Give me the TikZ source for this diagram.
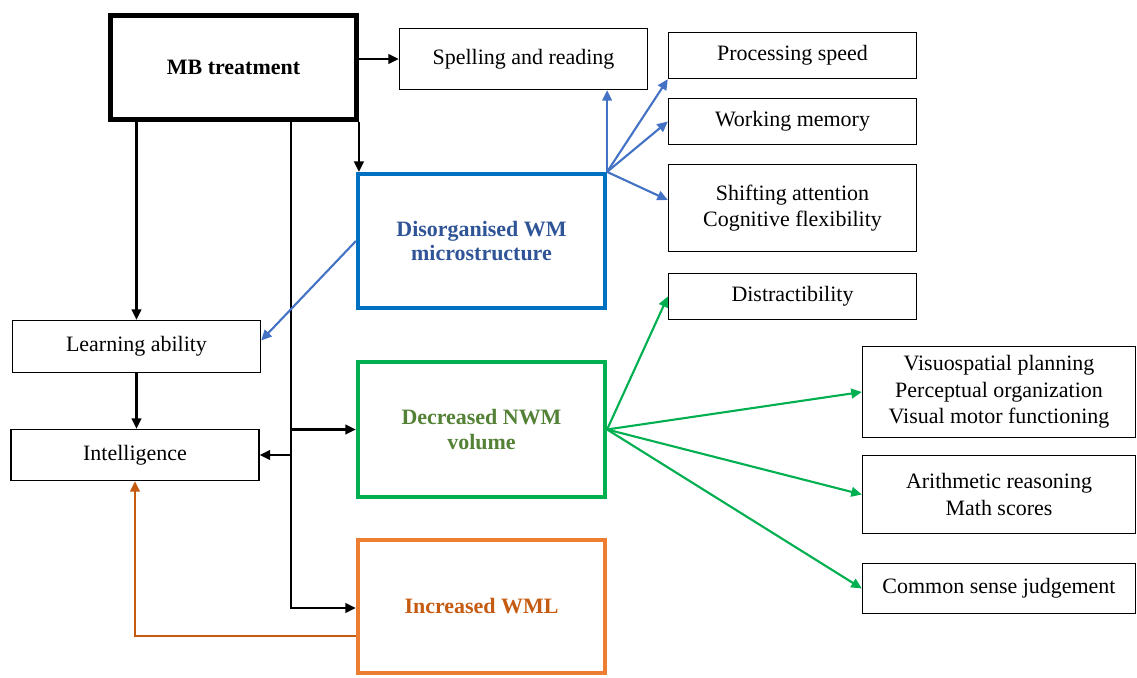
\documentclass[tikz,border=0pt]{standalone}
\usepackage{fontspec}
\setmainfont{Liberation Serif}
\usetikzlibrary{arrows.meta,positioning}

\definecolor{wmblue}{HTML}{0070C0}
\definecolor{wmbluearr}{HTML}{4472C4}
\definecolor{wmbluetxt}{HTML}{2F5597}
\definecolor{nwmgreen}{HTML}{00B050}
\definecolor{nwmgreentxt}{HTML}{538135}
\definecolor{wmlorange}{HTML}{ED7D31}
\definecolor{wmlorangetxt}{HTML}{C55A11}

\tikzset{
  every node/.style={font=\fontsize{12.5}{15.2}\selectfont,align=center,inner sep=0pt},
  plainbox/.style={draw,line width=0.8pt,minimum width=4.96cm},
  widebox/.style={draw,line width=0.8pt,minimum width=5.46cm},
  lesion/.style={draw=#1,line width=2.4pt,minimum width=4.94cm,font=\fontsize{12.5}{14.2}\selectfont\bfseries},
  arr/.style={->,line width=1.3pt},
  bluearr/.style={->,line width=1.2pt,draw=wmbluearr},
  greenarr/.style={->,line width=1.2pt,draw=nwmgreen},
  orangearr/.style={->,line width=1.2pt,draw=wmlorangetxt}
}

\begin{document}
\begin{tikzpicture}[x=0.02cm,y=-0.02cm,>={Triangle[length=6pt,width=5.5pt]}]
\useasboundingbox (0,0) rectangle (1137,678);

% treatment and left column
\node[draw,line width=2.8pt,minimum width=4.92cm,minimum height=2.08cm,font=\fontsize{12.5}{15.2}\selectfont\bfseries] (mb) at (233.5,67.5) {MB treatment};
\node[plainbox,minimum height=1.04cm] (learn) at (136.5,346.5) {Learning ability};
\node[plainbox,minimum height=1.02cm] (intel) at (135,455) {Intelligence};

% white matter findings
\node[lesion=wmblue,text=wmbluetxt,minimum height=2.68cm] (disorg) at (481.5,241) {Disorganised WM\\microstructure};
\node[lesion=nwmgreen,text=nwmgreentxt,minimum height=2.7cm] (decr) at (481.5,429.5) {Decreased NWM\\volume};
\node[lesion=wmlorange,text=wmlorangetxt,minimum height=2.66cm] (incr) at (481.5,606.5) {Increased WML};

% outcomes
\node[plainbox,minimum height=1.22cm] (spell) at (523.5,59) {Spelling and reading};
\node[plainbox,minimum height=0.92cm] (proc) at (792.5,55.5) {Processing speed};
\node[plainbox,minimum height=0.92cm] (wmem) at (792.5,121.5) {Working memory};
\node[plainbox,minimum height=1.74cm] (shift) at (792.5,208) {Shifting attention\\Cognitive flexibility};
\node[plainbox,minimum height=0.92cm] (distr) at (792.5,296.5) {Distractibility};
\node[widebox,minimum height=1.82cm] (visuo) at (999,392) {Visuospatial planning\\Perceptual organization\\Visual motor functioning};
\node[widebox,minimum height=1.56cm] (arith) at (999,494.5) {Arithmetic reasoning\\Math scores};
\node[widebox,minimum height=1.0cm] (common) at (999,588.5) {Common sense judgement};

\coordinate (trunk) at (291,122);

% black paths
\draw[arr] (mb.east |- spell.west) -- (spell.west);
\draw[arr] (learn.north |- mb.south) -- (learn.north);
\draw[arr] (learn.south) -- (learn.south |- intel.north);
\draw[arr] (mb.south east) -- (mb.south east |- disorg.north);
\draw[arr] (trunk) |- ([yshift=-0.03cm]incr.west);
\draw[arr] (trunk |- decr.west) -- (decr.west);
\draw[arr] (trunk |- intel.east) -- (intel.east);

% blue paths
\draw[bluearr] (disorg.north east) -- (disorg.north east |- spell.south);
\draw[bluearr] (disorg.north east) -- (proc.south west);
\draw[bluearr] (disorg.north east) -- (wmem.west);
\draw[bluearr] (disorg.north east) -- ([yshift=0.16cm]shift.west);
\draw[bluearr] (disorg.west) -- ([yshift=0.12cm]learn.east);

% green paths
\draw[greenarr] (decr.east) -- (distr.west);
\draw[greenarr] (decr.east) -- (visuo.west);
\draw[greenarr] (decr.east) -- (arith.west);
\draw[greenarr] (decr.east) -- (common.west);

% orange path
\draw[orangearr] ([yshift=-0.59cm]incr.west) -| (intel.south);
\end{tikzpicture}
\end{document}
